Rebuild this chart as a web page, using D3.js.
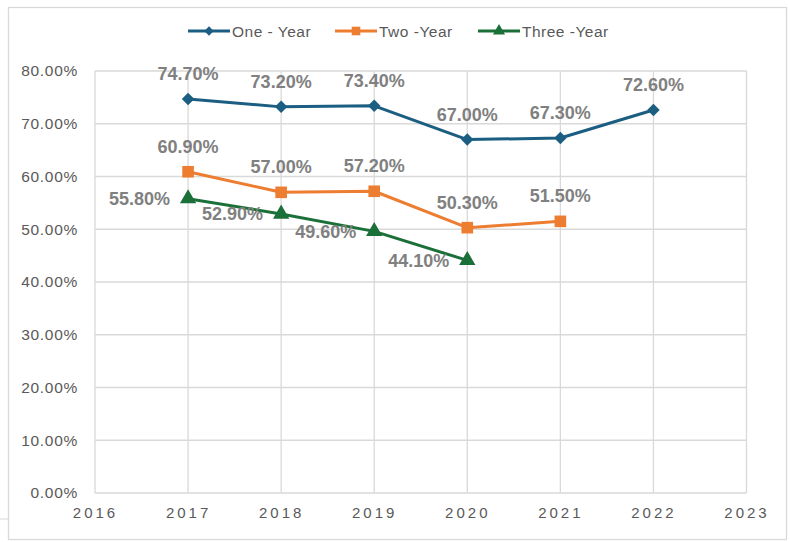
<!DOCTYPE html>
<html>
<head>
<meta charset="utf-8">
<title>Retention rates</title>
<script src="https://cdn.jsdelivr.net/npm/d3@7"></script>
<style>
body { margin: 0; background: #fff; }
svg { display: block; font-family: "Liberation Sans", Arial, sans-serif; }
.grid line { stroke: #d9d9d9; stroke-width: 1.3; }
.dlabel { fill: #808080; font-size: 18px; font-weight: bold; }
.legend text { fill: #595959; font-size: 15.5px; letter-spacing: 0.5px; }
</style>
</head>
<body>
<svg id="chart" width="790" height="542"></svg>
<script>
// data
var years = [2017, 2018, 2019, 2020, 2021, 2022];
var oneYear = [74.7, 73.2, 73.4, 67.0, 67.3, 72.6];
var twoYear = [60.9, 57.0, 57.2, 50.3, 51.5];
var threeYear = [55.8, 52.9, 49.6, 44.1];
var xTicks = [2016, 2017, 2018, 2019, 2020, 2021, 2022, 2023];
var yTicks = [0, 10, 20, 30, 40, 50, 60, 70, 80];

var series = [
  {name: "One - Year", values: oneYear, color: "#1b5e82", shape: d3.symbolSquare, size: 78, rotate: 45, label: "above"},
  {name: "Two -Year", values: twoYear, color: "#ed7d31", shape: d3.symbolSquare, size: 135, rotate: 0, label: "above"},
  {name: "Three -Year", values: threeYear, color: "#1a7038", shape: d3.symbolTriangle, size: 115, rotate: 0, label: "left"}
];

var svg = d3.select("#chart");

// outer frame
svg.append("rect")
  .attr("x", 8.5).attr("y", 7.5)
  .attr("width", 778).attr("height", 532)
  .attr("fill", "none").attr("stroke", "#d9d9d9").attr("stroke-width", 1.3);
svg.append("line")
  .attr("x1", 0).attr("x2", 8).attr("y1", 519).attr("y2", 519)
  .attr("stroke", "#d9d9d9");

var x = d3.scaleLinear().domain([2016, 2023]).range([95, 746.5]);
var y = d3.scaleLinear().domain([0, 80]).range([493, 71]);

// grid
var grid = svg.append("g").attr("class", "grid");
grid.selectAll(".h").data(yTicks).enter().append("line")
  .attr("x1", x(2016)).attr("x2", x(2023))
  .attr("y1", function(d) { return y(d); }).attr("y2", function(d) { return y(d); });
grid.selectAll(".v").data(xTicks).enter().append("line")
  .attr("x1", function(d) { return x(d); }).attr("x2", function(d) { return x(d); })
  .attr("y1", y(80)).attr("y2", y(0));

// y axis labels
var yAxis = svg.append("g")
  .attr("transform", "translate(" + (x(2016) - 17) + ",0)")
  .call(d3.axisLeft(y).tickValues(yTicks).tickSize(0).tickPadding(0)
    .tickFormat(function(d) { return d3.format(".2f")(d) + "%"; }));
yAxis.select(".domain").remove();
yAxis.selectAll("text").attr("fill", "#595959").attr("font-size", "15.5px")
  .attr("font-family", null).style("letter-spacing", "0.7px");

// x axis labels
var xAxis = svg.append("g")
  .attr("transform", "translate(0," + (y(0) + 14) + ")")
  .call(d3.axisBottom(x).tickValues(xTicks).tickSize(0).tickPadding(0)
    .tickFormat(d3.format("d")));
xAxis.select(".domain").remove();
xAxis.selectAll("text").attr("fill", "#595959").attr("font-size", "15px")
  .attr("font-family", null).style("letter-spacing", "3px");

// lines
var line = d3.line()
  .x(function(d, i) { return x(years[i]); })
  .y(function(d) { return y(d); });

series.forEach(function(s) {
  var g = svg.append("g");
  g.append("path")
    .datum(s.values)
    .attr("d", line)
    .attr("fill", "none")
    .attr("stroke", s.color)
    .attr("stroke-width", 3)
    .attr("stroke-linejoin", "round");
  g.selectAll("path.mark").data(s.values).enter().append("path")
    .attr("class", "mark")
    .attr("d", d3.symbol().type(s.shape).size(s.size))
    .attr("fill", s.color)
    .attr("transform", function(d, i) {
      return "translate(" + x(years[i]) + "," + y(d) + ") rotate(" + s.rotate + ")";
    });
  g.selectAll("text").data(s.values).enter().append("text")
    .attr("class", "dlabel")
    .attr("x", function(d, i) { return s.label === "left" ? x(years[i]) - 18 : x(years[i]); })
    .attr("y", function(d) { return s.label === "left" ? y(d) + 6.5 : y(d) - 19; })
    .attr("text-anchor", s.label === "left" ? "end" : "middle")
    .text(function(d) { return d.toFixed(2) + "%"; });
});

// legend
var legendPos = [188, 335, 478];
var legend = svg.append("g").attr("class", "legend");
series.forEach(function(s, i) {
  var lx = legendPos[i];
  var g = legend.append("g").attr("transform", "translate(" + lx + ",31)");
  g.append("line").attr("x1", 0).attr("x2", 42).attr("y1", 0).attr("y2", 0)
    .attr("stroke", s.color).attr("stroke-width", 3);
  g.append("path")
    .attr("d", d3.symbol().type(s.shape).size(s.size * 0.55))
    .attr("fill", s.color)
    .attr("transform", "translate(21,0) rotate(" + s.rotate + ")");
  g.append("text").attr("x", 44).attr("y", 5.5).text(s.name);
});
</script>
</body>
</html>
